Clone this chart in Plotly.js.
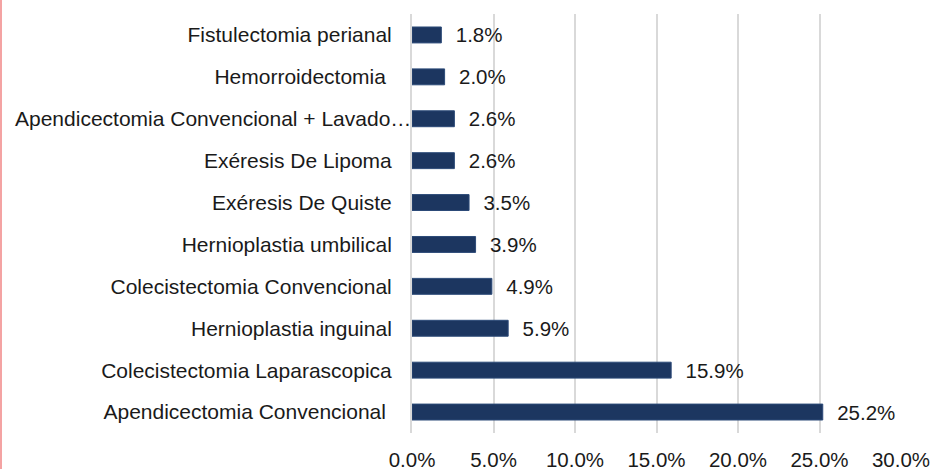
<!DOCTYPE html>
<html>
<head>
<meta charset="utf-8">
<script src="https://cdn.plot.ly/plotly-3.0.1.min.js"></script>
<style>
  body { margin: 0; background: #fff; }
  #edge { position: absolute; left: 0; top: 0; width: 2px; height: 469px; background: #f4a3a3; z-index: 5; }
  #procChart { width: 933px; height: 469px; }
</style>
</head>
<body>
<div id="edge"></div>
<div id="procChart"></div>
<script>
// bottom to top, as drawn
const procedures = [
    'Apendicectomia Convencional\u00a0',
    'Colecistectomia Laparascopica',
    'Hernioplastia inguinal',
    'Colecistectomia Convencional',
    'Hernioplastia umbilical',
    'Exéresis De Quiste',
    'Exéresis De Lipoma',
    'Apendicectomia Convencional + Lavado…',
    'Hemorroidectomia\u00a0',
    'Fistulectomia perianal'
];
const percents = [25.2, 15.9, 5.9, 4.9, 3.9, 3.5, 2.6, 2.6, 2.0, 1.8];
const xTicks = [0, 5, 10, 15, 20, 25, 30];

function drawProcedures() {
    // the long truncated label sits closer to the axis in the original, so draw it as an annotation
    const longLabel = procedures.reduce((a, b) => (b.length > a.length ? b : a));

    var trace1 = {
        type: 'bar',
        orientation: 'h',
        y: procedures,
        x: percents,
        width: 0.38,
        text: percents.map(v => '\u00a0\u00a0' + v.toFixed(1) + '%'),
        textposition: 'outside',
        constraintext: 'none',
        cliponaxis: false,
        hoverinfo: 'none',
        textfont: { size: 20.5, color: '#1a1a1a' },
        marker: {
            color: '#1c3660',
            line: { color: '#2c4a78', width: 1 }
        }
    };

    var layout = {
        showlegend: false,
        font: { family: 'Liberation Sans, Arial, sans-serif', size: 20.5, color: '#1a1a1a' },
        margin: { l: 412, r: 32, t: 14, b: 36 },
        width: 933,
        height: 469,
        paper_bgcolor: '#ffffff',
        plot_bgcolor: '#ffffff',
        bargap: 0.62,
        xaxis: {
            range: [0, 30],
            tickvals: xTicks,
            ticktext: xTicks.map(v => v.toFixed(1) + '%'),
            showgrid: true,
            gridcolor: '#d9d9d9',
            gridwidth: 2,
            zeroline: false,
            showline: false,
            ticks: '',
            ticklabelstandoff: 12,
            tickfont: { size: 20.5, color: '#1a1a1a' }
        },
        yaxis: {
            tickvals: procedures,
            ticktext: procedures.map(p => (p === longLabel ? '' : p)),
            showgrid: false,
            zeroline: false,
            showline: true,
            linecolor: '#d9d9d9',
            linewidth: 2,
            ticks: '',
            ticklabelstandoff: 14,
            tickfont: { size: 21, color: '#1a1a1a' }
        },
        annotations: [{
            xref: 'paper',
            yref: 'y',
            x: 0,
            y: longLabel,
            xanchor: 'right',
            yanchor: 'middle',
            xshift: 1,
            showarrow: false,
            text: longLabel,
            font: { size: 21, color: '#1a1a1a' }
        }]
    };

    Plotly.newPlot('procChart', [trace1], layout, { staticPlot: true });
}

drawProcedures();
</script>
</body>
</html>
